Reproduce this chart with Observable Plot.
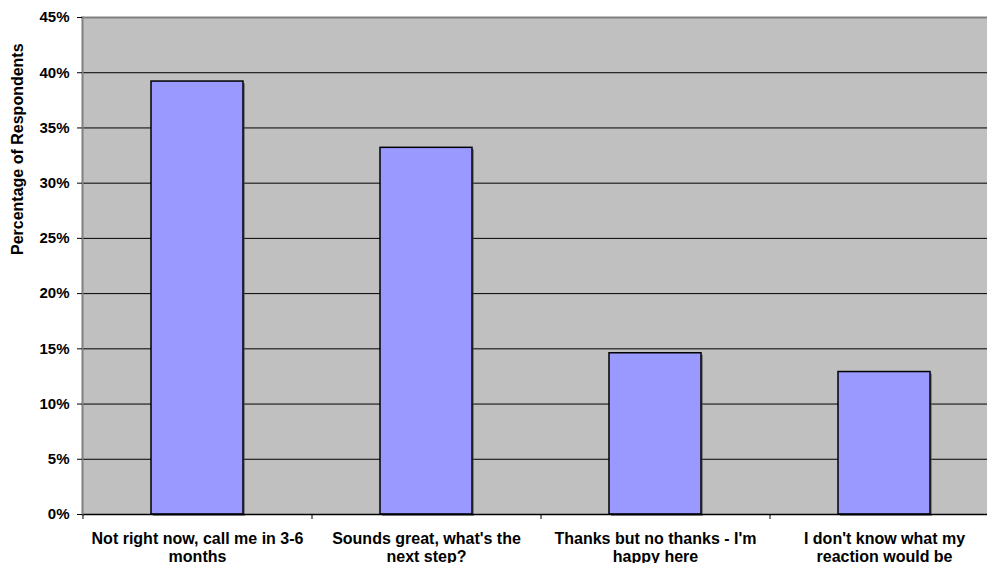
<!DOCTYPE html>
<html>
<head>
<meta charset="utf-8">
<script src="https://cdn.jsdelivr.net/npm/d3@7"></script>
<script src="https://cdn.jsdelivr.net/npm/@observablehq/plot@0.6"></script>
<style>
  html, body { margin: 0; padding: 0; background: #fff; overflow: hidden; }
  #chart svg { display: block; max-width: none !important; }
</style>
</head>
<body>
<div id="chart"></div>
<script>
const categories = [
  "Not right now, call me in 3-6 months",
  "Sounds great, what's the next step?",
  "Thanks but no thanks - I'm happy here",
  "I don't know what my reaction would be"
];
const tickLabels = [
  "Not right now, call me in 3-6\nmonths",
  "Sounds great, what's the\nnext step?",
  "Thanks but no thanks - I'm\nhappy here",
  "I don't know what my\nreaction would be"
];
const values = [39.2, 33.2, 14.6, 12.9];
const yTicks = [0, 5, 10, 15, 20, 25, 30, 35, 40, 45];
const yLabel = "Percentage of Respondents";

const data = categories.map((c, i) => ({category: c, value: values[i]}));
const labelOf = new Map(categories.map((c, i) => [c, tickLabels[i]]));

const W = 1000, H = 563, mL = 82, mR = 2, mT = 17, mB = 49;
const step = (W - mL - mR) / categories.length;

const chart = Plot.plot({
  width: W,
  height: H,
  marginLeft: mL,
  marginRight: mR,
  marginTop: mT,
  marginBottom: mB,
  style: {fontFamily: "'Liberation Sans', Arial, sans-serif", fontWeight: "bold", fontSize: "15px", color: "#000", background: "#fff", maxWidth: "none"},
  x: {domain: categories, paddingInner: 0.6, paddingOuter: 0.3},
  y: {domain: [0, 45]},
  marks: [
    Plot.frame({fill: "#c0c0c0"}),
    Plot.frame({anchor: "top", stroke: "#808080", strokeWidth: 2}),
    Plot.ruleY(yTicks.filter(d => d > 0 && d < 45), {stroke: "#000", strokeWidth: 1}),
    Plot.barY(data, {x: "category", y: "value", fill: "#555", fillOpacity: 0.6, dx: 2, dy: 2}),
    Plot.barY(data, {x: "category", y: "value", fill: "#9999ff", stroke: "#000", strokeWidth: 1.5}),
    Plot.ruleY([0], {stroke: "#000", strokeWidth: 1.5}),
    Plot.frame({anchor: "left", stroke: "#808080", strokeWidth: 2}),
    Plot.axisY({ticks: yTicks, tickSize: 5, tickPadding: 8, tickFormat: d => d + "%", label: null, stroke: "#000", fontSize: 15, fontWeight: "bold"}),
    Plot.axisX({tickSize: 5, tickFormat: () => "", dx: -step / 2, label: null, stroke: "#000"}),
    Plot.axisX({tickSize: 0, tickPadding: 17, tickFormat: d => labelOf.get(d), lineHeight: 1.125, label: null, fill: "#000", fontSize: 16, fontWeight: "bold"}),
    Plot.text([yLabel], {frameAnchor: "left", dx: -65, dy: -11, rotate: -90, text: d => d, fontSize: 16, fontWeight: "bold", fill: "#000"})
  ]
});
document.getElementById("chart").append(chart);
</script>
</body>
</html>
